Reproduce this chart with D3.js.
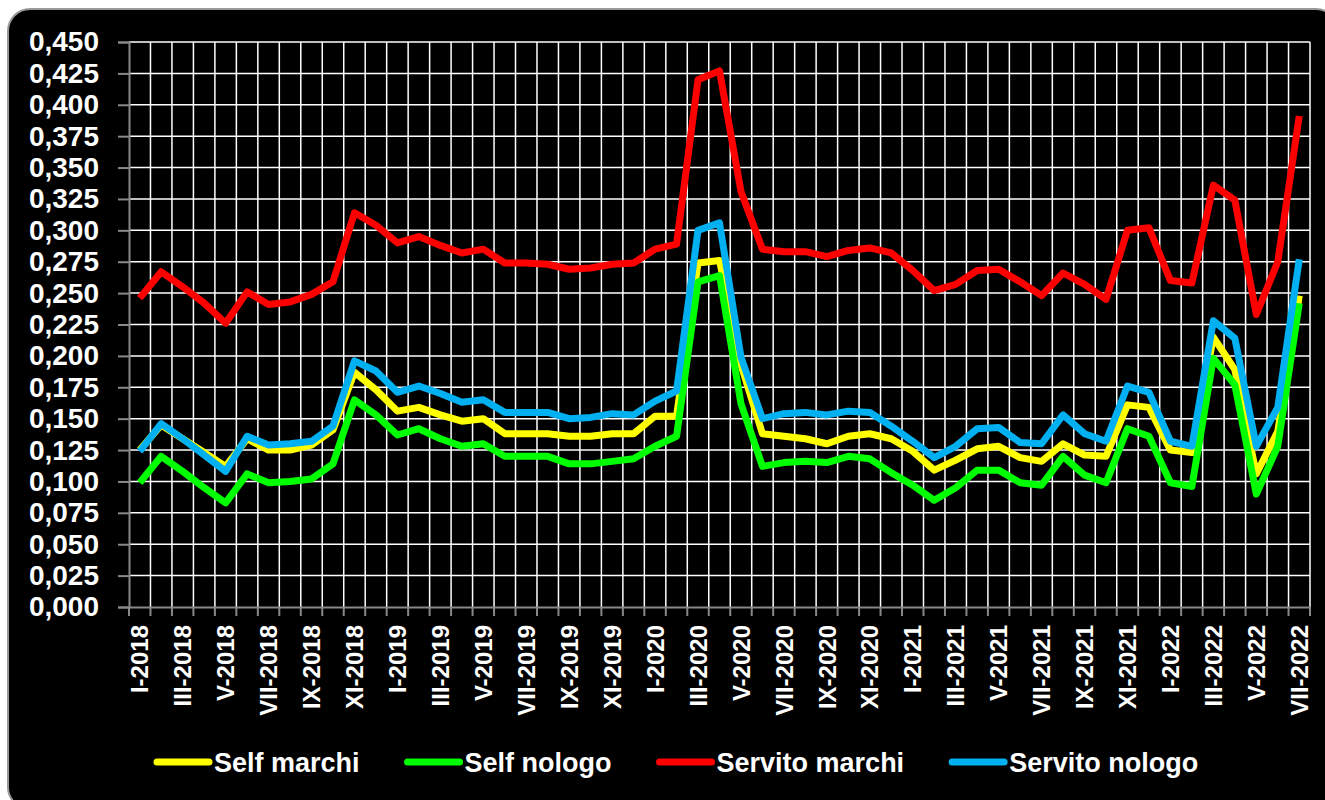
<!DOCTYPE html>
<html>
<head>
<meta charset="utf-8">
<script src="https://cdn.jsdelivr.net/npm/d3@7"></script>
<style>
  body { margin: 0; background: #fff; }
  svg { display: block; }
</style>
</head>
<body>
<svg id="chart" width="1325" height="800"></svg>
<script>
// months from I-2018 to VII-2022
const romans = ['I','II','III','IV','V','VI','VII','VIII','IX','X','XI','XII']
const months = []
for (let y = 2018; y <= 2022; y++) {
  for (let m = 0; m < 12; m++) {
    if (y === 2022 && m > 6) break
    months.push(`${romans[m]}-${y}`)
  }
}

const selfMarchi = [
  0.125, 0.145, 0.134, 0.123, 0.112, 0.134, 0.125, 0.125, 0.129, 0.141,
  0.187, 0.173, 0.156, 0.159, 0.153, 0.148, 0.150, 0.138, 0.138, 0.138,
  0.136, 0.136, 0.138, 0.138, 0.152, 0.152, 0.274, 0.276, 0.193, 0.138,
  0.136, 0.134, 0.130, 0.136, 0.138, 0.134, 0.124, 0.109, 0.117, 0.126,
  0.128, 0.119, 0.116, 0.130, 0.121, 0.120, 0.161, 0.159, 0.125, 0.123,
  0.215, 0.189, 0.106, 0.140, 0.248
]
const selfNologo = [
  0.099, 0.120, 0.108, 0.095, 0.083, 0.106, 0.099, 0.100, 0.102, 0.114,
  0.165, 0.153, 0.137, 0.142, 0.134, 0.128, 0.130, 0.120, 0.120, 0.120,
  0.114, 0.114, 0.116, 0.118, 0.128, 0.136, 0.259, 0.264, 0.162, 0.112,
  0.115, 0.116, 0.115, 0.120, 0.118, 0.107, 0.097, 0.085, 0.095, 0.109,
  0.109, 0.099, 0.097, 0.120, 0.105, 0.099, 0.142, 0.136, 0.099, 0.096,
  0.198, 0.177, 0.090, 0.128, 0.242
]
const servitoMarchi = [
  0.246, 0.267, 0.255, 0.242, 0.226, 0.251, 0.241, 0.243, 0.249, 0.259,
  0.314, 0.304, 0.290, 0.295, 0.288, 0.282, 0.285, 0.274, 0.274, 0.273,
  0.269, 0.270, 0.273, 0.274, 0.285, 0.289, 0.420, 0.427, 0.331, 0.285,
  0.283, 0.283, 0.279, 0.284, 0.286, 0.282, 0.268, 0.252, 0.257, 0.268,
  0.269, 0.259, 0.248, 0.266, 0.257, 0.245, 0.300, 0.302, 0.260, 0.258,
  0.336, 0.324, 0.233, 0.275, 0.391
]
const servitoNologo = [
  0.124, 0.146, 0.134, 0.121, 0.108, 0.136, 0.129, 0.130, 0.132, 0.144,
  0.196, 0.188, 0.171, 0.176, 0.170, 0.163, 0.165, 0.155, 0.155, 0.155,
  0.150, 0.151, 0.154, 0.153, 0.164, 0.172, 0.300, 0.306, 0.199, 0.150,
  0.154, 0.155, 0.153, 0.156, 0.155, 0.144, 0.132, 0.119, 0.128, 0.142,
  0.143, 0.131, 0.130, 0.153, 0.138, 0.132, 0.176, 0.171, 0.132, 0.128,
  0.228, 0.214, 0.128, 0.159, 0.277
]
const yTicks = d3.range(0, 0.4501, 0.025)
const seriesNames = ['Self marchi', 'Self nologo', 'Servito marchi', 'Servito nologo']
const seriesColors = ['#ffff00', '#00ff00', '#ff0000', '#00b0f0']

const series = [selfMarchi, selfNologo, servitoMarchi, servitoNologo].map((values, i) => ({
  name: seriesNames[i], color: seriesColors[i], values
}))

const plot = {left: 129, right: 1310, top: 42, bottom: 607}
const font = "'Liberation Sans', Arial, sans-serif"

const svg = d3.select('#chart')

// black rounded panel
svg.append('rect')
  .attr('x', 8).attr('y', 9)
  .attr('width', 1330).attr('height', 800)
  .attr('rx', 22)
  .attr('fill', '#000')
  .attr('stroke', '#999').attr('stroke-width', 2)

const xScale = d3.scaleBand().domain(months).range([plot.left, plot.right]).padding(0)
const yScale = d3.scaleLinear().domain([0, 0.45]).range([plot.bottom, plot.top])
const bw = xScale.bandwidth()

// gridlines
const grid = svg.append('g').attr('class', 'grid')
grid.selectAll('line.h').data(yTicks.slice(1)).join('line')
  .attr('class', 'h')
  .attr('x1', plot.left).attr('x2', plot.right)
  .attr('y1', (d) => yScale(d)).attr('y2', (d) => yScale(d))
  .attr('stroke', '#fff').attr('stroke-width', 1.5)

const bounds = months.map((m) => xScale(m)).slice(1).concat([plot.right])
grid.selectAll('line.v').data(bounds).join('line')
  .attr('class', 'v')
  .attr('x1', (d) => d).attr('x2', (d) => d)
  .attr('y1', plot.top).attr('y2', plot.bottom)
  .attr('stroke', '#fff').attr('stroke-width', 1.5)

// y axis
const yAxis = d3.axisLeft(yScale)
  .tickValues(yTicks)
  .tickSize(11)
  .tickPadding(19)
  .tickFormat((d) => d3.format('.3f')(d).replace('.', ','))
const gY = svg.append('g').attr('transform', `translate(${plot.left},0)`).call(yAxis)
gY.select('.domain').attr('stroke', '#888').attr('stroke-width', 2)
gY.selectAll('.tick line').attr('stroke', '#888').attr('stroke-width', 2)
gY.selectAll('.tick text')
  .attr('fill', '#fff')
  .style('font-family', font).style('font-size', '28px').style('font-weight', 'bold')

// x axis: tick marks on band edges, labels every second month
svg.append('g').selectAll('line').data([plot.left].concat(bounds)).join('line')
  .attr('x1', (d) => d).attr('x2', (d) => d)
  .attr('y1', plot.bottom).attr('y2', plot.bottom + 9)
  .attr('stroke', '#888').attr('stroke-width', 2)

const xAxis = d3.axisBottom(xScale)
  .tickValues(months.filter((d, i) => i % 2 === 0))
  .tickSize(0)
const gX = svg.append('g').attr('transform', `translate(0,${plot.bottom})`).call(xAxis)
gX.select('.domain').attr('stroke', '#888').attr('stroke-width', 2)
gX.selectAll('.tick text')
  .attr('transform', 'rotate(-90)')
  .attr('text-anchor', 'end')
  .attr('x', -18).attr('y', 0).attr('dy', '0.36em')
  .attr('fill', '#fff')
  .style('font-family', font).style('font-size', '24px').style('font-weight', 'bold')

// lines
const line = d3.line()
  .x((d, i) => xScale(months[i]) + bw / 2)
  .y((d) => yScale(d))

svg.append('g').selectAll('path').data(series).join('path')
  .attr('d', (d) => line(d.values))
  .attr('fill', 'none')
  .attr('stroke', (d) => d.color)
  .attr('stroke-width', 7)
  .attr('stroke-linejoin', 'round')

// legend
const legend = svg.append('g').attr('transform', 'translate(154,762)')
let lx = 0
series.forEach((s) => {
  const item = legend.append('g').attr('transform', `translate(${lx},0)`)
  item.append('line')
    .attr('x1', 3).attr('x2', 55).attr('y1', 0).attr('y2', 0)
    .attr('stroke', s.color).attr('stroke-width', 7).attr('stroke-linecap', 'round')
  const t = item.append('text')
    .attr('x', 60).attr('y', 0).attr('dy', '0.36em')
    .attr('fill', '#fff')
    .style('font-family', font).style('font-size', '27px').style('font-weight', 'bold')
    .text(s.name)
  lx += 60 + t.node().getComputedTextLength() + 45
})
</script>
</body>
</html>
